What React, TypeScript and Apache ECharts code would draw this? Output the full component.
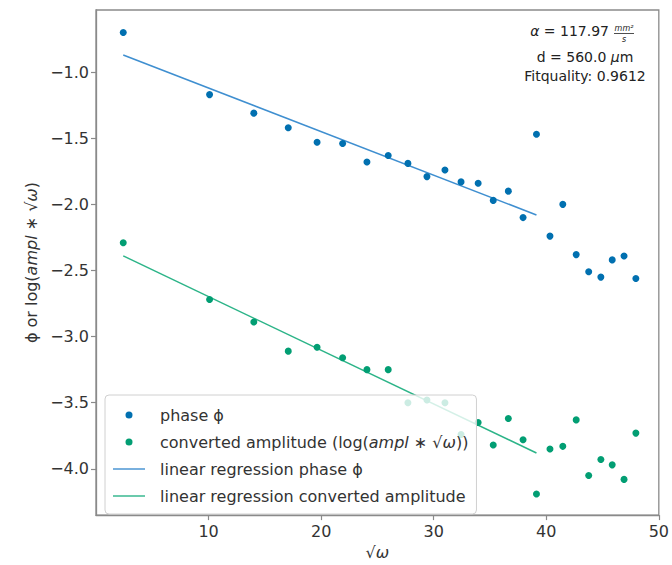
import React, { useEffect, useRef } from 'react';
import * as echarts from 'echarts';

// sqrt(omega) positions
const sqrtOmega = [2.42, 10.09, 14.02, 17.08, 19.64, 21.91, 24.07, 25.96, 27.71, 29.40, 31.0, 32.43, 33.95, 35.29, 36.63, 37.94, 39.13, 40.33, 41.47, 42.66, 43.77, 44.85, 45.86, 46.91, 47.96];
// phase phi
const phase = [-0.70, -1.17, -1.31, -1.42, -1.53, -1.54, -1.68, -1.63, -1.69, -1.79, -1.74, -1.83, -1.84, -1.97, -1.90, -2.10, -1.47, -2.24, -2.00, -2.38, -2.51, -2.55, -2.42, -2.39, -2.56];
// converted amplitude log(ampl*sqrt(omega))
const convertedAmplitude = [-2.29, -2.72, -2.89, -3.11, -3.08, -3.16, -3.25, -3.25, -3.50, -3.48, -3.50, -3.74, -3.65, -3.82, -3.62, -3.78, -4.19, -3.85, -3.83, -3.63, -4.05, -3.93, -3.97, -4.08, -3.73];
// regression line end points
const fitX = [2.42, 39.13];
const phaseFitY = [-0.87, -2.08];
const ampFitY = [-2.39, -3.88];

const seriesNames = ['phase ϕ', 'converted amplitude', 'linear regression phase ϕ', 'linear regression converted amplitude'];
const annotationLines = ['117.97', 'd = 560.0 ', 'Fitquality: 0.9612'];

const FONT = '"DejaVu Sans", sans-serif';
const BLUE = '#0170b0';
const GREEN = '#029e73';
const BLUE_LINE = '#3f8fd0';
const GREEN_LINE = '#2cb488';
const DOT_ICON = 'path://M0 0M32 14M19.5 7A3.5 3.5 0 1 1 12.5 7A3.5 3.5 0 1 1 19.5 7Z';
const LINE_ICON = 'path://M0 0M32 14M0 6.3L32 6.3L32 7.7L0 7.7Z';

export default function App() {
  const ref = useRef<HTMLDivElement>(null);
  useEffect(() => {
    if (!ref.current) return;
    const chart = echarts.init(ref.current, null, { renderer: 'svg' });
    const pts = (ys: number[]) => sqrtOmega.map((x, i) => [x, ys[i]]);
    const fit = (ys: number[]) => fitX.map((x, i) => [x, ys[i]]);
    chart.setOption({
      animation: false,
      textStyle: { fontFamily: FONT },
      grid: { left: 96, right: 3, top: 10, bottom: 45, show: true, borderColor: '#8a8a8a', borderWidth: 1.3, backgroundColor: 'transparent' },
      xAxis: {
        type: 'value', min: 0, max: 50, interval: 10,
        name: '√{i|ω}', nameLocation: 'middle', nameGap: 24,
        nameTextStyle: { fontSize: 16, color: '#333', fontFamily: FONT, rich: { i: { fontStyle: 'italic', fontSize: 16, color: '#333', fontFamily: FONT } } },
        axisLine: { show: true, lineStyle: { color: '#8a8a8a', width: 1.3 } },
        axisTick: { show: true, length: 5, lineStyle: { color: '#8a8a8a', width: 1.2 } },
        axisLabel: { showMinLabel: false, fontSize: 16, color: '#333', margin: 8, fontFamily: FONT },
        splitLine: { show: false },
      },
      yAxis: {
        type: 'value', min: -4.35, max: -0.53, splitNumber: 8,
        name: 'ϕ or log({i|ampl} ∗ √{i|ω})', nameLocation: 'middle', nameGap: 53,
        nameTextStyle: { fontSize: 16, color: '#333', fontFamily: FONT, rich: { i: { fontStyle: 'italic', fontSize: 16, color: '#333', fontFamily: FONT } } },
        axisLine: { show: true, lineStyle: { color: '#8a8a8a', width: 1.3 } },
        axisTick: { show: true, length: 5, lineStyle: { color: '#8a8a8a', width: 1.2 } },
        axisLabel: {
          showMinLabel: false, showMaxLabel: false, fontSize: 16, color: '#333', margin: 7, fontFamily: FONT,
          formatter: (v: number) => (Math.abs(v * 2 - Math.round(v * 2)) < 1e-6 ? v.toFixed(1).replace('-', '−') : ''),
        },
        splitLine: { show: false },
      },
      legend: {
        orient: 'vertical', left: 105, top: 395,
        itemWidth: 32, itemHeight: 14, itemGap: 11,
        padding: [12, 8, 10, 8],
        backgroundColor: 'rgba(255,255,255,0.8)', borderColor: '#d0d0d0', borderWidth: 1, borderRadius: 4,
        data: [
          { name: seriesNames[0], icon: DOT_ICON },
          { name: seriesNames[1], icon: DOT_ICON },
          { name: seriesNames[2], icon: LINE_ICON },
          { name: seriesNames[3], icon: LINE_ICON },
        ],
        formatter: (name: string) => (name === seriesNames[1] ? 'converted amplitude (log({i|ampl} ∗ √{i|ω}))' : name),
        textStyle: { fontSize: 16, color: '#333', fontFamily: FONT, padding: [0, 0, 0, 10], rich: { i: { fontStyle: 'italic', fontSize: 16, color: '#333', fontFamily: FONT } } },
      },
      series: [
        { name: seriesNames[0], type: 'scatter', data: pts(phase), symbolSize: 7, itemStyle: { color: BLUE, opacity: 1 }, z: 3 },
        { name: seriesNames[1], type: 'scatter', data: pts(convertedAmplitude), symbolSize: 7, itemStyle: { color: GREEN, opacity: 1 }, z: 3 },
        { name: seriesNames[2], type: 'line', data: fit(phaseFitY), symbol: 'none', lineStyle: { color: BLUE_LINE, width: 1.5 }, itemStyle: { color: BLUE_LINE }, z: 2 },
        { name: seriesNames[3], type: 'line', data: fit(ampFitY), symbol: 'none', lineStyle: { color: GREEN_LINE, width: 1.5 }, itemStyle: { color: GREEN_LINE }, z: 2 },
      ],
      graphic: [
        { type: 'text', x: 609, y: 31, style: { text: '{i|α} = ' + annotationLines[0], fill: '#222', font: '14px ' + FONT, align: 'right', verticalAlign: 'middle', rich: { i: { fontStyle: 'italic', fontSize: 14, fontFamily: FONT, fill: '#222' } } } },
        { type: 'text', x: 624, y: 28, style: { text: 'mm²', fill: '#222', font: 'italic 8px ' + FONT, align: 'center', verticalAlign: 'middle' } },
        { type: 'line', shape: { x1: 614, y1: 33.5, x2: 634, y2: 33.5 }, style: { stroke: '#222', lineWidth: 0.8 } },
        { type: 'text', x: 624, y: 39, style: { text: 's', fill: '#222', font: 'italic 8px ' + FONT, align: 'center', verticalAlign: 'middle' } },
        { type: 'text', x: 585, y: 57, style: { text: annotationLines[1] + '{i|μ}m', fill: '#222', font: '14px ' + FONT, align: 'center', verticalAlign: 'middle', rich: { i: { fontStyle: 'italic', fontSize: 14, fontFamily: FONT, fill: '#222' } } } },
        { type: 'text', x: 585, y: 76, style: { text: annotationLines[2], fill: '#222', font: '14px ' + FONT, align: 'center', verticalAlign: 'middle' } },
      ],
    });
    return () => chart.dispose();
  }, []);
  return <div ref={ref} style={{ position: 'fixed', left: 0, top: 0, width: 672, height: 565, background: '#fff' }} />;
}
